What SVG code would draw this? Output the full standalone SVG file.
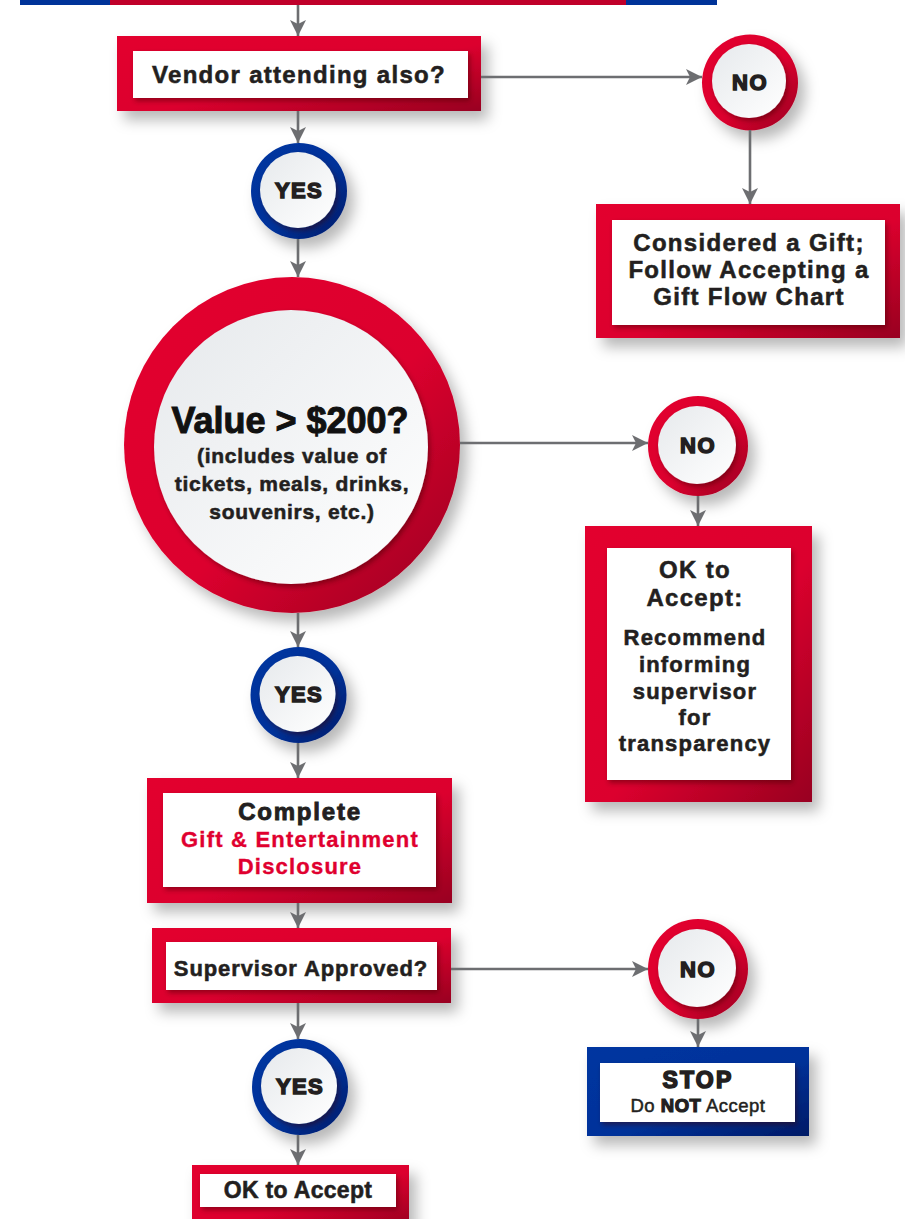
<svg xmlns="http://www.w3.org/2000/svg" width="905" height="1219" viewBox="0 0 905 1219">
<style>
.t{font-family:"Liberation Sans",Arial,Helvetica,sans-serif;font-weight:700;fill:#231f20;stroke:#231f20;stroke-width:0.55px;text-anchor:middle}
.h24{font-size:24px;letter-spacing:1.3px}
.b22{font-size:22px;letter-spacing:1.2px}
.yn{font-size:22px;letter-spacing:1.4px;stroke-width:1.5px}
.red{fill:#e0002f;stroke:#e0002f;stroke-width:0.35px}
.conn{fill:none;stroke:#6d6e71;stroke-width:2.6;marker-end:url(#ah)}
.ring{filter:url(#sh)}
.disc{fill:url(#gDisc);filter:url(#ish)}
.inner{fill:#fff;filter:url(#ish)}
</style>
<defs>
<linearGradient id="gRed" x1="0" y1="0" x2="1" y2="1">
<stop offset="0" stop-color="#e3002f"/><stop offset="0.55" stop-color="#dc002e"/><stop offset="1" stop-color="#980020"/>
</linearGradient>
<linearGradient id="gBlue" x1="0" y1="0" x2="1" y2="1">
<stop offset="0" stop-color="#0035a0"/><stop offset="0.55" stop-color="#00329a"/><stop offset="1" stop-color="#001a66"/>
</linearGradient>
<linearGradient id="gDisc" x1="0" y1="0" x2="1" y2="1">
<stop offset="0" stop-color="#e6e9ec"/><stop offset="1" stop-color="#ffffff"/>
</linearGradient>
<filter id="sh" x="-30%" y="-30%" width="170%" height="180%">
<feDropShadow dx="7" dy="9" stdDeviation="7" flood-color="#000" flood-opacity="0.28"/>
</filter>
<filter id="ish" x="-20%" y="-20%" width="150%" height="150%">
<feDropShadow dx="2" dy="3" stdDeviation="2.5" flood-color="#3a0010" flood-opacity="0.45"/>
</filter>
<marker id="ah" markerUnits="userSpaceOnUse" viewBox="0 0 16 16" markerWidth="16" markerHeight="16" refX="16" refY="8" orient="auto">
<path d="M0,0 L16,8 L0,16 L4,8 z" fill="#6d6e71"/>
</marker>
</defs>
<rect width="905" height="1219" fill="#fff"/>

<g id="top-bar">
<rect x="20" y="-4" width="697" height="9" fill="#003399"/>
<rect x="110" y="-4" width="516" height="9" fill="#c0002a"/>
</g>

<g id="vendor">
<rect class="ring" x="117" y="36" width="364" height="75" fill="url(#gRed)"/>
<rect class="inner" x="133" y="51" width="335" height="47"/>
<text class="t h24" x="299" y="83">Vendor attending also?</text>
</g>

<g id="no1">
<circle class="ring" cx="750" cy="82.5" r="48" fill="url(#gRed)"/>
<circle class="disc" cx="749" cy="81" r="37"/>
<text class="t yn" x="750" y="90">NO</text>
</g>

<g id="gift">
<rect class="ring" x="596" y="204" width="304" height="134" fill="url(#gRed)"/>
<rect class="inner" x="612" y="220" width="273" height="105"/>
<text class="t h24" x="749" y="251">Considered a Gift;</text>
<text class="t h24" x="749" y="278">Follow Accepting a</text>
<text class="t h24" x="749" y="305">Gift Flow Chart</text>
</g>

<g id="yes1">
<circle class="ring" cx="299" cy="191" r="48" fill="url(#gBlue)"/>
<circle class="disc" cx="298" cy="190" r="38"/>
<text class="t yn" x="299" y="198">YES</text>
</g>

<g id="value">
<circle class="ring" cx="292" cy="445" r="168" fill="url(#gRed)"/>
<circle class="disc" cx="291" cy="447" r="137"/>
<text class="t" x="290" y="433" style="font-size:36px;stroke-width:1px;fill:#111;stroke:#111">Value &gt; $200?</text>
<text class="t" x="292" y="463" style="font-size:21px;letter-spacing:0.7px">(includes value of</text>
<text class="t" x="292" y="491" style="font-size:21px;letter-spacing:0.7px">tickets, meals, drinks,</text>
<text class="t" x="292" y="519" style="font-size:21px;letter-spacing:0.7px">souvenirs, etc.)</text>
</g>

<g id="no2">
<circle class="ring" cx="698" cy="446" r="50" fill="url(#gRed)"/>
<circle class="disc" cx="697" cy="445" r="39"/>
<text class="t yn" x="698" y="453">NO</text>
</g>

<g id="ok-recommend">
<rect class="ring" x="585" y="526" width="227" height="276" fill="url(#gRed)"/>
<rect class="inner" x="607" y="548" width="184" height="232"/>
<text class="t h24" x="695" y="578">OK to</text>
<text class="t h24" x="695" y="606">Accept:</text>
<text class="t b22" x="695" y="645">Recommend</text>
<text class="t b22" x="695" y="672">informing</text>
<text class="t b22" x="695" y="699">supervisor</text>
<text class="t b22" x="695" y="725">for</text>
<text class="t b22" x="695" y="751">transparency</text>
</g>

<g id="yes2">
<circle class="ring" cx="298.5" cy="695" r="48" fill="url(#gBlue)"/>
<circle class="disc" cx="297.5" cy="694" r="38"/>
<text class="t yn" x="299" y="702">YES</text>
</g>

<g id="complete">
<rect class="ring" x="147" y="778" width="305" height="125" fill="url(#gRed)"/>
<rect class="inner" x="163" y="793" width="273" height="94"/>
<text class="t" x="300" y="820" style="font-size:24px;letter-spacing:1.8px;stroke-width:0.9px">Complete</text>
<text class="t b22 red" x="300" y="847">Gift &amp; Entertainment</text>
<text class="t b22 red" x="300" y="874">Disclosure</text>
</g>

<g id="supervisor">
<rect class="ring" x="152" y="928" width="299" height="75" fill="url(#gRed)"/>
<rect class="inner" x="166" y="942" width="271" height="48"/>
<text class="t" x="301" y="976" style="font-size:22px;letter-spacing:0.9px">Supervisor Approved?</text>
</g>

<g id="no3">
<circle class="ring" cx="698" cy="969" r="50" fill="url(#gRed)"/>
<circle class="disc" cx="697" cy="968" r="39"/>
<text class="t yn" x="698" y="977">NO</text>
</g>

<g id="stop">
<rect class="ring" x="587" y="1047" width="222" height="89" fill="url(#gBlue)"/>
<rect class="inner" x="600" y="1063" width="195" height="59"/>
<text class="t" x="698" y="1088" style="font-size:23px;letter-spacing:2.2px;stroke-width:1.6px">STOP</text>
<text class="t" x="698" y="1112" style="font-size:18.5px;letter-spacing:0.5px;stroke-width:0"><tspan style="font-weight:400;stroke:#231f20;stroke-width:0.5px">Do </tspan><tspan style="stroke:#231f20;stroke-width:1.2px">NOT</tspan><tspan style="font-weight:400;stroke:#231f20;stroke-width:0.5px"> Accept</tspan></text>
</g>

<g id="yes3">
<circle class="ring" cx="300" cy="1087" r="48" fill="url(#gBlue)"/>
<circle class="disc" cx="299" cy="1086" r="38"/>
<text class="t yn" x="300" y="1094">YES</text>
</g>

<g id="ok-final">
<rect class="ring" x="192" y="1165" width="217" height="62" fill="url(#gRed)"/>
<rect class="inner" x="200" y="1174" width="196" height="33"/>
<text class="t" x="298" y="1198" style="font-size:23px;letter-spacing:0.3px">OK to Accept</text>
</g>

<g id="connectors">
<path class="conn" d="M298,5 V36"/>
<path class="conn" d="M298,111 V143"/>
<path class="conn" d="M298,239 V277"/>
<path class="conn" d="M298,613 V647"/>
<path class="conn" d="M298,743 V778"/>
<path class="conn" d="M298,903 V928"/>
<path class="conn" d="M298,1003 V1039"/>
<path class="conn" d="M298,1135 V1165"/>
<path class="conn" d="M481,77 H702"/>
<path class="conn" d="M750,130 V204"/>
<path class="conn" d="M460,443 H648"/>
<path class="conn" d="M698,496 V526"/>
<path class="conn" d="M451,969 H648"/>
<path class="conn" d="M698,1019 V1047"/>
</g>
</svg>
